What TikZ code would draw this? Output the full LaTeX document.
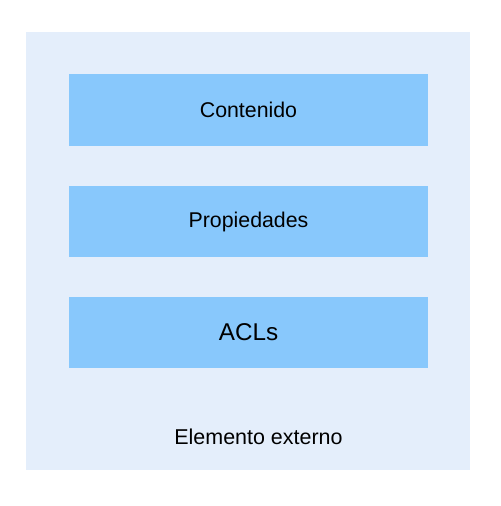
\documentclass[tikz,border=0pt]{standalone}
\usepackage{fontspec}
\setmainfont{Liberation Sans}
\definecolor{outerbg}{HTML}{E4EEFB}
\definecolor{boxblue}{HTML}{88C8FC}
\begin{document}
\begin{tikzpicture}[x=0.75pt,y=-0.75pt,
  layer/.style={fill=boxblue, draw=none, minimum width=359*0.75pt, minimum height=71.5*0.75pt, inner sep=0pt, font=\fontsize{16}{19}\selectfont},
  outer/.style={fill=outerbg, draw=none, minimum width=444*0.75pt, minimum height=438*0.75pt, inner sep=0pt}]
\useasboundingbox (0,0) rectangle (500,506);
\node[outer] (ext) at (248,251) {};
\node[layer] (cont) at (248.5,110) {Contenido};
\node[layer] (prop) at (248.5,221.5) {Propiedades};
\node[layer, font=\fontsize{18.2}{22}\selectfont] (acl) at (248.5,332.5) {ACLs};
\node[font=\fontsize{16.1}{19}\selectfont] (lbl) at (258.5,437) {Elemento externo};
\end{tikzpicture}
\end{document}
